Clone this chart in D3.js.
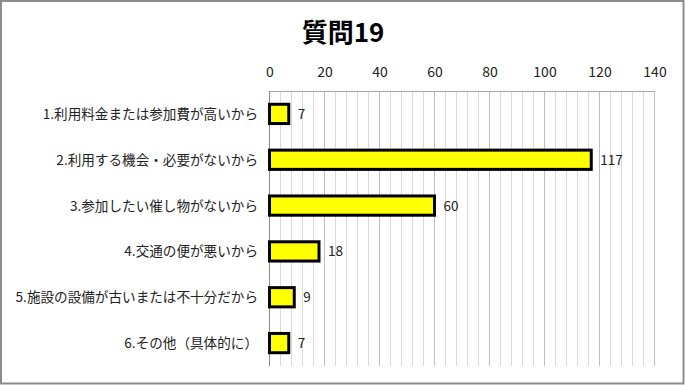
<!DOCTYPE html>
<html><head><meta charset="utf-8">
<script src="https://cdn.jsdelivr.net/npm/d3@7/dist/d3.min.js"></script>
<style>body{margin:0;background:#fff}</style>
</head><body>
<script>
const categories = ["1.利用料金または参加費が高いから","2.利用する機会・必要がないから","3.参加したい催し物がないから","4.交通の便が悪いから","5.施設の設備が古いまたは不十分だから","6.その他（具体的に）"];
const values = [7,117,60,18,9,7];
const tickValues = [0,20,40,60,80,100,120,140];
const title = "質問19";

const W=685,H=385;
const svg=d3.select("body").append("svg").attr("width",W).attr("height",H);
const font="'Noto Sans CJK JP','Noto Sans',sans-serif";
svg.append("rect").attr("x",1).attr("y",1).attr("width",W-2.5).attr("height",H-2.5)
  .attr("fill","#fff").attr("stroke","#8c8c8c").attr("stroke-width",2);

const x=d3.scaleLinear().domain([0,140]).range([269.5,654.5]);
const y=d3.scaleBand().domain(categories).range([91,366]).paddingInner(0.58).paddingOuter(0.29);

svg.append("text").attr("x",343).attr("y",42).attr("text-anchor","middle")
  .attr("font-family",font).attr("font-weight","bold").attr("font-size",26).text(title);

const minor=d3.range(0,141,4).filter(v=>v%20!==0);
svg.append("g").selectAll("line").data(minor).join("line")
  .attr("x1",d=>x(d)).attr("x2",d=>x(d)).attr("y1",91).attr("y2",366)
  .attr("stroke","#d9d9d9").attr("stroke-width",1);
svg.append("g").selectAll("line").data(tickValues.slice(1)).join("line")
  .attr("x1",d=>x(d)).attr("x2",d=>x(d)).attr("y1",91).attr("y2",366)
  .attr("stroke","#bfbfbf").attr("stroke-width",1);
svg.append("line").attr("x1",x(0)).attr("x2",x(140)).attr("y1",91.5).attr("y2",91.5).attr("stroke","#a6a6a6");
svg.append("line").attr("x1",x(0)).attr("x2",x(0)).attr("y1",91).attr("y2",366).attr("stroke","#8c8c8c");

const ax=d3.axisTop(x).tickValues(tickValues).tickSize(0).tickPadding(0);
const g=svg.append("g").attr("transform","translate(0,77)").call(ax);
g.select(".domain").remove();
g.selectAll("text").attr("font-family",font).attr("font-size",14).attr("fill","#222");

svg.append("g").selectAll("rect").data(values).join("rect")
  .attr("x",x(0)).attr("y",(d,i)=>y(categories[i]))
  .attr("width",d=>x(d)-x(0)).attr("height",y.bandwidth())
  .attr("fill","#ffff00").attr("stroke","#000").attr("stroke-width",3);

svg.append("g").selectAll("text").data(values).join("text")
  .attr("x",d=>x(d)+9).attr("y",(d,i)=>y(categories[i])+y.bandwidth()/2+5)
  .attr("font-family",font).attr("font-size",13.5).attr("fill","#222").text(d=>d);

svg.append("g").selectAll("text").data(categories).join("text")
  .attr("x",258).attr("y",d=>y(d)+y.bandwidth()/2+5).attr("text-anchor","end")
  .attr("font-family",font).attr("font-size",13.6).attr("fill","#222").text(d=>d);
</script>
</body></html>
